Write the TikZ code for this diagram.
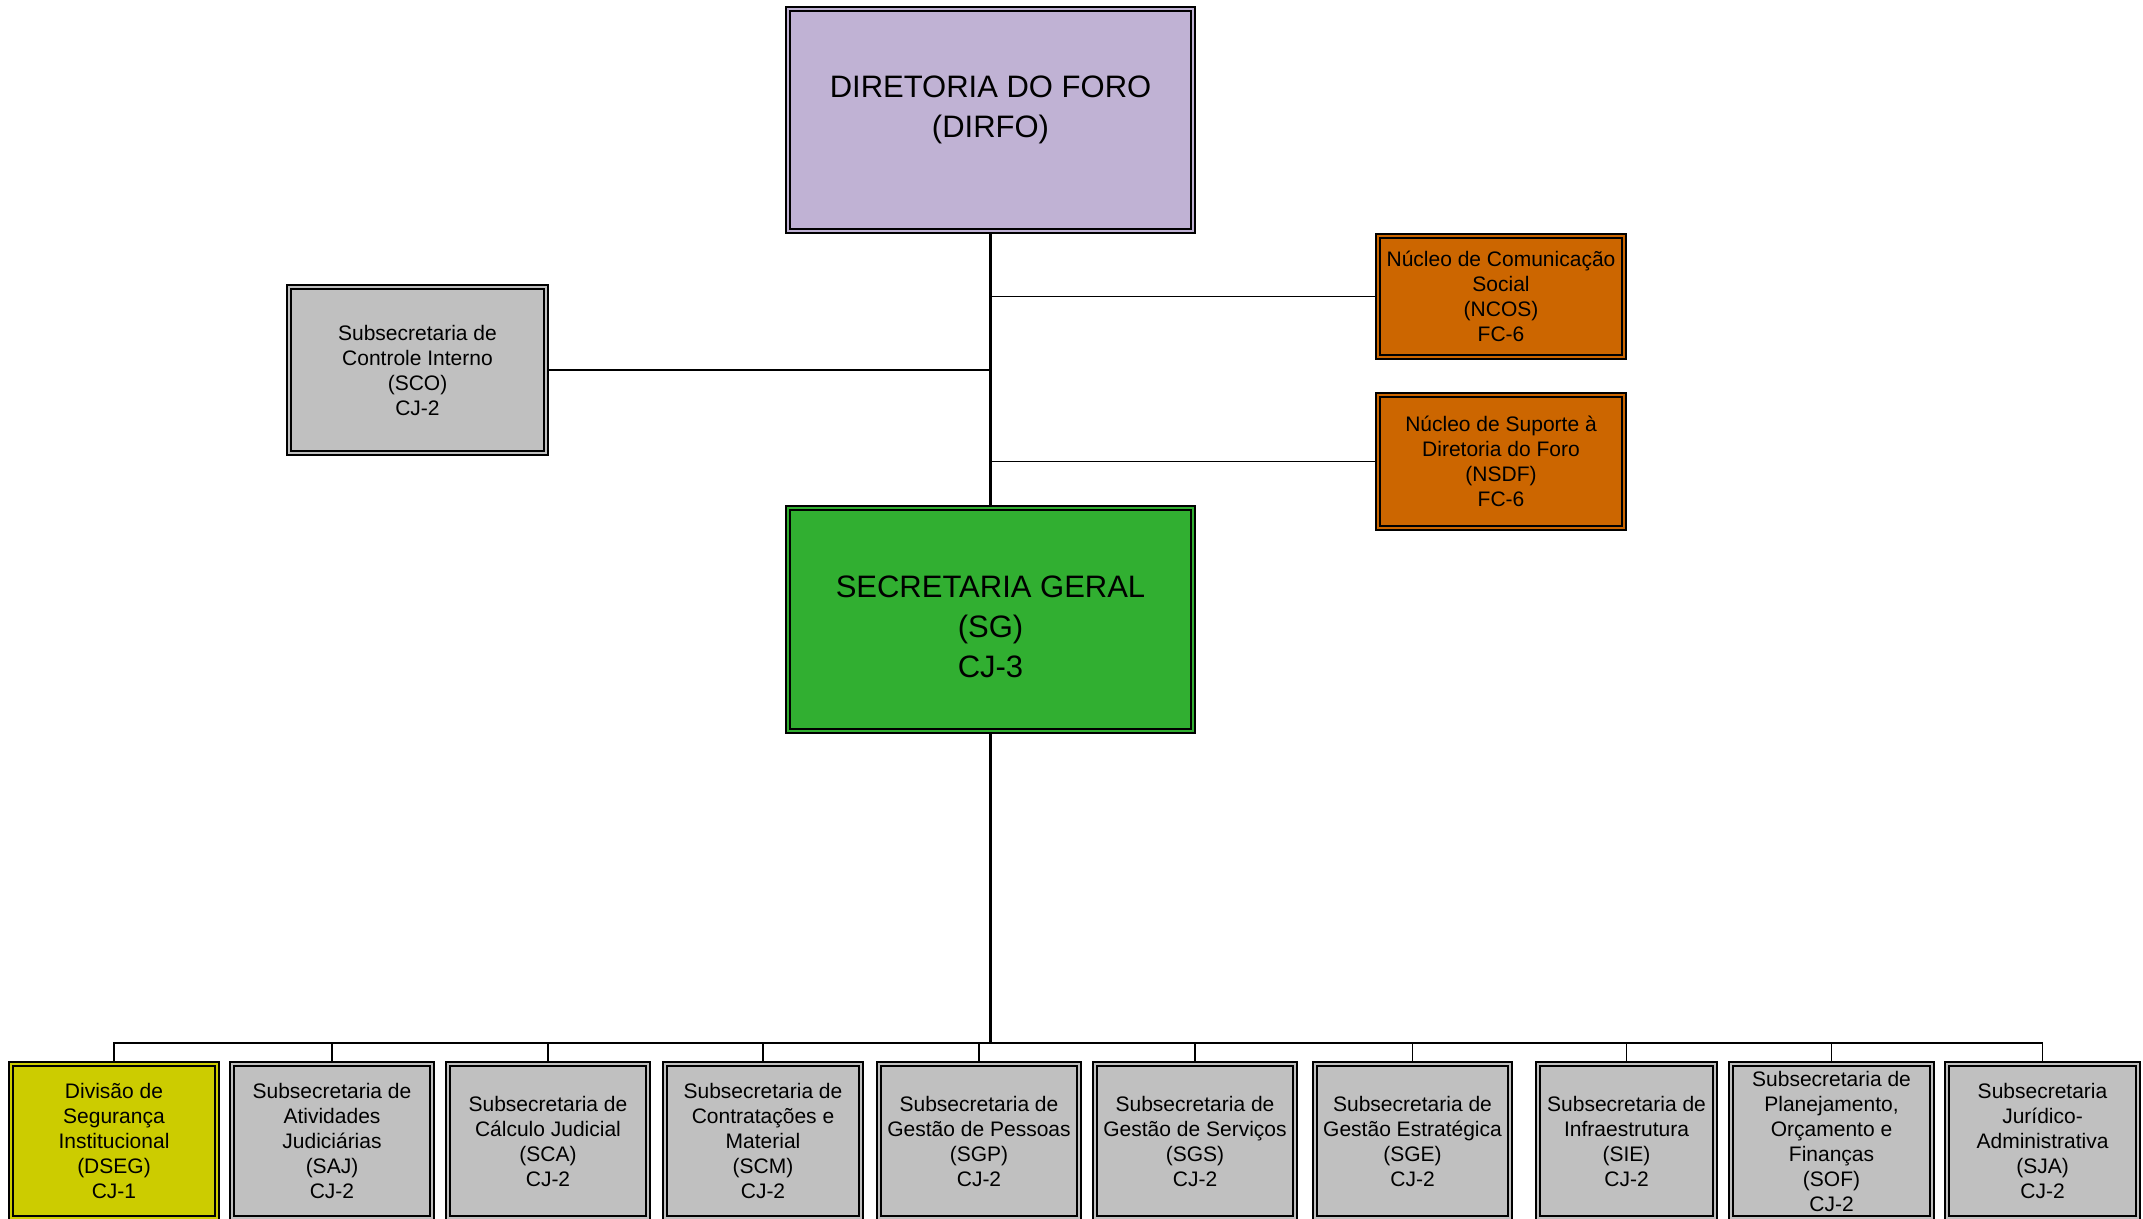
\documentclass[tikz,border=0pt]{standalone}
\usepackage{fontspec}
\setmainfont{Liberation Sans}
\definecolor{lav}{RGB}{192,178,212}
\definecolor{grn}{RGB}{49,175,49}
\definecolor{org}{RGB}{204,102,0}
\definecolor{gry}{RGB}{192,192,192}
\definecolor{ylw}{RGB}{204,204,0}
\newcommand\smallf{\fontsize{21}{25}\selectfont}
\newcommand\bigf{\fontsize{31}{40}\selectfont}
\begin{document}
\begin{tikzpicture}[x=1pt,y=-1pt,
  orgbox/.style={draw=black, line width=1.2pt, align=center, inner sep=0pt, text=black},
  small/.style={font=\smallf},
  innerframe/.style={draw=black, line width=2pt},
  trunk/.style={draw=black, line width=2.8pt},
  branch/.style={draw=black, line width=1.5pt},
  busthick/.style={draw=black, line width=2.2pt}]
\useasboundingbox (0,0) rectangle (2143,1218);
\clip (0,0) rectangle (2143,1218);

% top level
\node[orgbox, fill=lav, minimum width=409, minimum height=226,
  label={[font=\bigf, align=center, yshift=10pt]center:{DIRETORIA DO FORO\\(DIRFO)}}] (dirfo) at (990.5,120) {};
\node[orgbox, fill=grn, minimum width=409, minimum height=227,
  label={[font=\bigf, align=center, yshift=-7pt]center:{SECRETARIA GERAL\\(SG)\\CJ-3}}] (sg) at (990.5,619.5) {};

\node[orgbox, small, fill=gry, minimum width=261, minimum height=170] (sco) at (417.5,370)
  {Subsecretaria de\\Controle Interno\\(SCO)\\CJ-2};
\node[orgbox, small, fill=org, minimum width=250, minimum height=125] (ncos) at (1501,296.5)
  {Núcleo de Comunicação\\Social\\(NCOS)\\FC-6};
\node[orgbox, small, fill=org, minimum width=250, minimum height=137] (nsdf) at (1501,461.5)
  {Núcleo de Suporte à\\Diretoria do Foro\\(NSDF)\\FC-6};

% bottom row
\node[orgbox, small, fill=ylw, minimum width=210, minimum height=158] (dseg) at (114,1141)
  {Divisão de\\Segurança\\Institucional\\(DSEG)\\CJ-1};
\node[orgbox, small, fill=gry, minimum width=204, minimum height=158] (saj) at (332,1141)
  {Subsecretaria de\\Atividades\\Judiciárias\\(SAJ)\\CJ-2};
\node[orgbox, small, fill=gry, minimum width=204, minimum height=158] (sca) at (548,1141)
  {Subsecretaria de\\Cálculo Judicial\\(SCA)\\CJ-2};
\node[orgbox, small, fill=gry, minimum width=200, minimum height=158] (scm) at (763,1141)
  {Subsecretaria de\\Contratações e\\Material\\(SCM)\\CJ-2};
\node[orgbox, small, fill=gry, minimum width=204, minimum height=158] (sgp) at (979,1141)
  {Subsecretaria de\\Gestão de Pessoas\\(SGP)\\CJ-2};
\node[orgbox, small, fill=gry, minimum width=204, minimum height=158] (sgs) at (1195,1141)
  {Subsecretaria de\\Gestão de Serviços\\(SGS)\\CJ-2};
\node[orgbox, small, fill=gry, minimum width=199, minimum height=158] (sge) at (1412.5,1141)
  {Subsecretaria de\\Gestão Estratégica\\(SGE)\\CJ-2};
\node[orgbox, small, fill=gry, minimum width=181, minimum height=158] (sie) at (1626.5,1141)
  {Subsecretaria de\\Infraestrutura\\(SIE)\\CJ-2};
\node[orgbox, small, fill=gry, minimum width=205, minimum height=158] (sof) at (1831.5,1141)
  {Subsecretaria de\\Planejamento,\\Orçamento e\\Finanças\\(SOF)\\CJ-2};
\node[orgbox, small, fill=gry, minimum width=195, minimum height=158] (sja) at (2042.5,1141)
  {Subsecretaria\\Jurídico-\\Administrativa\\(SJA)\\CJ-2};

% inner frames (double border)
\foreach \n in {dirfo,sg,sco,ncos,nsdf,dseg,saj,sca,scm,sgp,sgs,sge,sie,sof,sja}
  \draw[innerframe] ([shift={(5,5)}]\n.north west) rectangle ([shift={(-5,-5)}]\n.south east);

% connectors, upper part
\draw[trunk] (dirfo.south) -- (sg.north);
\draw[branch] (dirfo.south |- ncos.west) -- (ncos.west);
\draw[branch] (sco.east) -- (sco.east -| dirfo.south);
\draw[branch] (dirfo.south |- nsdf.west) -- (nsdf.west);

% connectors, lower part
\coordinate (bus) at (990.5,1043);
\draw[trunk] (sg.south) -- (bus);
\foreach \n in {dseg,saj,sca,scm,sgp,sgs,sge,sie,sof,sja}
  \draw[branch] (bus) -| (\n.north);
\draw[busthick] (saj.north |- bus) -- (sof.north |- bus);
\end{tikzpicture}
\end{document}
